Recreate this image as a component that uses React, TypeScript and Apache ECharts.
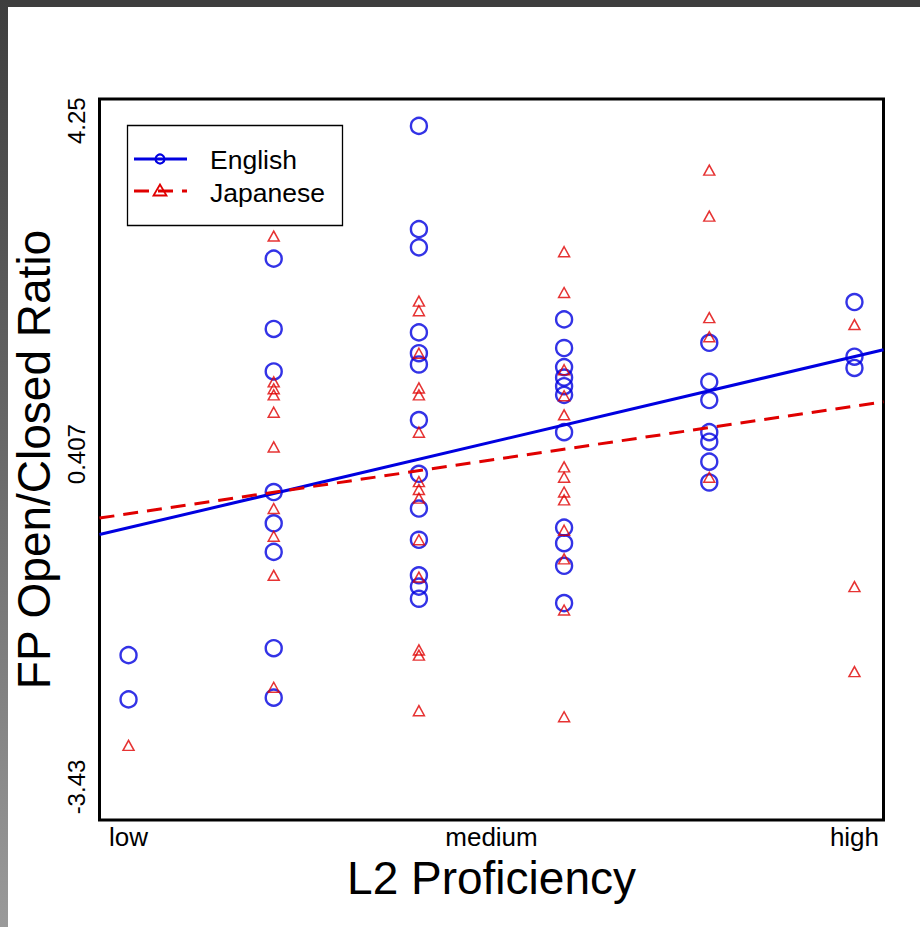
import React, { useEffect, useRef } from "react";
import * as echarts from "echarts";

// Proficiency levels: 1 = low ... 6 = high
const xTickValues = [1, 3.5, 6];
const xTickLabels = ["low", "medium", "high"];
const yTickValues = [-3.43, 0.407, 4.25];
const yTickLabels = ["-3.43", "0.407", "4.25"];

// English (circles) values per proficiency level
const englishL1 = [-1.91, -2.42];
const englishL2 = [2.66, 1.85, 1.36, -0.03, -0.39, -0.72, -1.83, -2.4];
const englishL3 = [4.19, 3.0, 2.79, 1.81, 1.57, 1.44, 0.8, 0.18, -0.22, -0.58, -0.99, -1.12, -1.26];
const englishL4 = [1.96, 1.63, 1.41, 1.29, 1.19, 1.09, 0.66, -0.44, -0.62, -0.88, -1.31];
const englishL5 = [1.69, 1.24, 1.03, 0.66, 0.55, 0.32, 0.08];
const englishL6 = [2.16, 1.53, 1.4];

// Japanese (triangles) values per proficiency level
const japaneseL1 = [-2.95];
const japaneseL2 = [2.92, 1.24, 1.16, 1.09, 0.89, 0.49, -0.22, -0.54, -0.99, -2.28];
const japaneseL3 = [2.17, 2.06, 1.57, 1.17, 1.09, 0.66, 0.09, 0.0, -0.1, -0.58, -1.01, -1.85, -1.91, -2.55];
const japaneseL4 = [2.74, 2.27, 1.38, 1.08, 0.86, 0.26, 0.14, -0.03, -0.12, -0.47, -0.8, -1.39, -2.62];
const japaneseL5 = [3.68, 3.15, 1.98, 1.76, 0.14];
const japaneseL6 = [1.9, -1.12, -2.1];

// Fitted regression lines (value at x = 0.8 and x = 6.2)
const fitX = [0.8, 6.2];
const englishFit = [-0.52, 1.61];
const japaneseFit = [-0.33, 1.01];

const BLUE = "#0000E0";
const RED = "#E00000";
const FONT = "'Liberation Sans', Arial, sans-serif";

function toPoints(groups: number[][]): number[][] {
  const out: number[][] = [];
  groups.forEach((vals, i) => vals.forEach((v) => out.push([i + 1, v])));
  return out;
}

export default function App() {
  const ref = useRef<HTMLDivElement>(null);

  useEffect(() => {
    if (!ref.current) return;
    const chart = echarts.init(ref.current, undefined, { renderer: "svg" });
    const englishPts = toPoints([englishL1, englishL2, englishL3, englishL4, englishL5, englishL6]);
    const japanesePts = toPoints([japaneseL1, japaneseL2, japaneseL3, japaneseL4, japaneseL5, japaneseL6]);

    chart.setOption({
      animation: false,
      backgroundColor: "transparent",
      grid: {
        left: 99.5,
        top: 99,
        width: 784,
        height: 721,
        show: true,
        borderColor: "#000",
        borderWidth: 3,
        backgroundColor: "transparent",
        containLabel: false,
      },
      xAxis: {
        type: "value",
        min: 0.8,
        max: 6.2,
        name: "L2 Proficiency",
        nameLocation: "middle",
        nameGap: 33,
        nameTextStyle: { fontSize: 46, color: "#000", fontFamily: FONT },
        axisLine: { show: false },
        axisTick: { show: false },
        splitLine: { show: false },
        axisLabel: {
          customValues: xTickValues,
          formatter: (v: number) => {
            const i = xTickValues.indexOf(v);
            return i >= 0 ? xTickLabels[i] : "";
          },
          fontSize: 26,
          color: "#000",
          fontFamily: FONT,
          margin: 4,
        },
      },
      yAxis: {
        type: "value",
        min: -3.81,
        max: 4.5,
        name: "FP Open/Closed Ratio",
        nameLocation: "middle",
        nameRotate: 90,
        nameGap: 36,
        nameTextStyle: { fontSize: 46, color: "#000", fontFamily: FONT },
        axisLine: { show: false },
        axisTick: { show: false },
        splitLine: { show: false },
        axisLabel: {
          customValues: yTickValues,
          formatter: (v: number) => {
            const i = yTickValues.indexOf(v);
            return i >= 0 ? yTickLabels[i] : "";
          },
          rotate: 90,
          fontSize: 24,
          color: "#000",
          fontFamily: FONT,
          margin: 11,
        },
      },
      series: [
        {
          name: "English",
          type: "scatter",
          data: englishPts,
          symbol: "circle",
          symbolSize: 16,
          itemStyle: { color: "transparent", borderColor: BLUE, borderWidth: 2.4 },
          emphasis: { disabled: true },
          silent: true,
        },
        {
          name: "Japanese",
          type: "scatter",
          data: japanesePts,
          symbol: "triangle",
          symbolSize: [11, 10],
          itemStyle: { color: "transparent", borderColor: RED, borderWidth: 1.5 },
          emphasis: { disabled: true },
          silent: true,
        },
        {
          name: "English fit",
          type: "line",
          data: fitX.map((x, i) => [x, englishFit[i]]),
          showSymbol: false,
          symbol: "none",
          lineStyle: { color: BLUE, width: 3 },
          emphasis: { disabled: true },
          silent: true,
          z: 3,
        },
        {
          name: "Japanese fit",
          type: "line",
          data: fitX.map((x, i) => [x, japaneseFit[i]]),
          showSymbol: false,
          symbol: "none",
          lineStyle: { color: RED, width: 3, type: [15, 9] },
          emphasis: { disabled: true },
          silent: true,
          z: 3,
        },
      ],
      graphic: [
        {
          type: "group",
          z: 100,
          children: [
            {
              type: "rect",
              shape: { x: 127.5, y: 125.5, width: 215, height: 100 },
              style: { fill: "#fff", stroke: "#000", lineWidth: 1.3 },
            },
            {
              type: "line",
              shape: { x1: 134, y1: 159, x2: 187, y2: 159 },
              style: { stroke: BLUE, lineWidth: 3 },
            },
            {
              type: "circle",
              shape: { cx: 160, cy: 159, r: 4.5 },
              style: { fill: "none", stroke: BLUE, lineWidth: 2.2 },
            },
            {
              type: "text",
              x: 210,
              y: 160,
              style: { text: "English", fontSize: 26.5, fontFamily: FONT, fill: "#000", verticalAlign: "middle" },
            },
            {
              type: "line",
              shape: { x1: 134, y1: 191, x2: 187, y2: 191 },
              style: { stroke: RED, lineWidth: 3, lineDash: [15, 9] },
            },
            {
              type: "polygon",
              shape: { points: [[160, 184.5], [153.5, 195.5], [166.5, 195.5]] },
              style: { fill: "none", stroke: RED, lineWidth: 1.8 },
            },
            {
              type: "text",
              x: 210,
              y: 193,
              style: { text: "Japanese", fontSize: 26.5, fontFamily: FONT, fill: "#000", verticalAlign: "middle" },
            },
          ],
        },
      ],
    });
    return () => chart.dispose();
  }, []);

  return (
    <div style={{ position: "fixed", left: 0, top: 0, width: 920, height: 927, background: "#fff", overflow: "hidden" }}>
      <div ref={ref} style={{ position: "absolute", left: 0, top: 0, width: 920, height: 927 }} />
      <div style={{ position: "absolute", left: 0, top: 0, width: 920, height: 7, background: "#3e3e3e", zIndex: 2 }} />
      <div
        style={{
          position: "absolute",
          left: 0,
          top: 0,
          width: 8,
          height: 927,
          background: "linear-gradient(to bottom, #3e3e3e, #6a6a6a 50%, #9a9a9a)",
          zIndex: 2,
        }}
      />
    </div>
  );
}
